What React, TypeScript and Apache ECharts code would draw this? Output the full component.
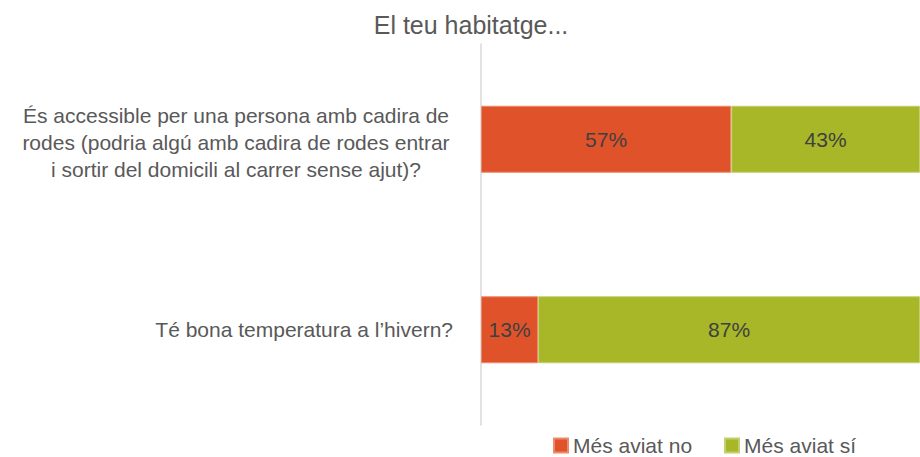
import React, { useEffect, useRef } from "react";
import * as echarts from "echarts";

const categories = [
  "És accessible per una persona amb cadira de\nrodes (podria algú amb cadira de rodes entrar\ni sortir del domicili al carrer sense ajut)?",
  "Té bona temperatura a l’hivern?",
];
const seriesNames = ["Més aviat no", "Més aviat sí"];
const valuesNo = [57, 13];
const valuesSi = [43, 87];
const titleText = "El teu habitatge...";

const FONT = "'Liberation Sans', Arial, sans-serif";

export default function App() {
  const ref = useRef<HTMLDivElement>(null);
  useEffect(() => {
    if (!ref.current) return;
    const chart = echarts.init(ref.current, null, { renderer: "svg" });
    const label = {
      show: true,
      position: "inside",
      formatter: "{c}%",
      color: "#404040",
      fontSize: 21,
      fontFamily: FONT,
    };
    chart.setOption({
      animation: false,
      textStyle: { fontFamily: FONT },
      title: {
        text: titleText,
        left: 466,
        top: 7,
        textAlign: "center",
        textStyle: { fontSize: 25, fontWeight: "normal", color: "#595959", fontFamily: FONT },
      },
      legend: {
        top: 430,
        left: 548,
        itemWidth: 14,
        itemHeight: 14,
        itemGap: 32,
        icon: "rect",
        textStyle: { fontSize: 21, color: "#595959", fontFamily: FONT },
        data: seriesNames,
      },
      grid: { left: 481, right: 0, top: 44, bottom: 32, containLabel: false },
      xAxis: { type: "value", min: 0, max: 100, show: false },
      yAxis: {
        type: "category",
        inverse: true,
        data: categories,
        axisLine: { show: true, lineStyle: { color: "#d9d9d9", width: 1.5 } },
        axisTick: { show: false },
        axisLabel: {
          margin: 25,
          fontSize: 21,
          lineHeight: 27,
          color: "#595959",
          align: "right",
          fontFamily: FONT,
          formatter: (value: string, index: number) =>
            index === 0
              ? "{s| }\n" +
                value
                  .split("\n")
                  .map((l) => `{c|${l}}`)
                  .join("\n")
              : `{r|${value}}`,
          rich: {
            s: { fontSize: 1, lineHeight: 6 },
            c: {
              width: 440,
              align: "center",
              fontSize: 21,
              lineHeight: 27,
              color: "#595959",
              fontFamily: FONT,
            },
            r: {
              fontSize: 21,
              lineHeight: 27,
              color: "#595959",
              fontFamily: FONT,
              padding: [0, 3, 0, 0],
            },
          },
        },
      },
      series: [
        {
          name: seriesNames[0],
          type: "bar",
          stack: "total",
          barWidth: 67,
          data: valuesNo,
          itemStyle: { color: "#E0532A", borderColor: "#EC8B6C", borderWidth: 1 },
          label,
        },
        {
          name: seriesNames[1],
          type: "bar",
          stack: "total",
          barWidth: 67,
          data: valuesSi,
          itemStyle: { color: "#A7B728", borderColor: "#C3CF6E", borderWidth: 1 },
          label,
        },
      ],
    });
    return () => chart.dispose();
  }, []);
  return <div ref={ref} style={{ width: 920, height: 457, position: "absolute", left: 0, top: 0 }} />;
}
